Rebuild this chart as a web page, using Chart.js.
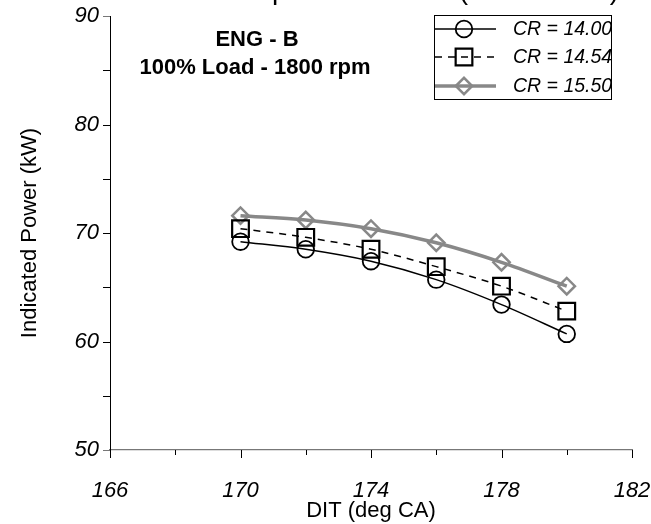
<!DOCTYPE html>
<html><head><meta charset="utf-8">
<script src="https://cdn.jsdelivr.net/npm/chart.js@4/dist/chart.umd.min.js"></script>
<style>html,body{margin:0;padding:0;background:#fff;}canvas{display:block;}</style>
</head><body>
<canvas id="c" width="651" height="524"></canvas>
<script>
// ---- data ----
const dit = [170, 172, 174, 176, 178, 180];
const cr1400 = [69.2, 68.5, 67.4, 65.7, 63.4, 60.7];
const cr1454 = [70.4, 69.6, 68.5, 66.9, 65.1, 62.8];
const cr1550 = [71.6, 71.2, 70.4, 69.1, 67.3, 65.1];
const seriesNames = ['CR = 14.00', 'CR = 14.54', 'CR = 15.50'];
const xTickValues = [166, 170, 174, 178, 182];
const yTickValues = [50, 60, 70, 80, 90];
const xAxisTitle = 'DIT (deg CA)';
const yAxisTitle = 'Indicated Power (kW)';
const noteLines = ['ENG - B', '100% Load - 1800 rpm'];
const titleText = 'Effect of Compression Ratio (100% Load)';

const FONT = '"Liberation Sans", Arial, sans-serif';
const toXY = arr => dit.map((x, i) => ({x: x, y: arr[i]}));

const datasets = [
  {label: seriesNames[0], data: toXY(cr1400), borderColor: '#000', borderWidth: 1.5,
   pointStyle: 'circle', pointRadius: 8.3, pointBorderWidth: 1.8, pointBorderColor: '#000',
   pointBackgroundColor: 'rgba(0,0,0,0)', borderDash: []},
  {label: seriesNames[1], data: toXY(cr1454), borderColor: '#000', borderWidth: 1.5,
   pointStyle: 'rect', pointRadius: 11.8, pointBorderWidth: 2.2, pointBorderColor: '#000',
   pointBackgroundColor: 'rgba(0,0,0,0)', borderDash: [7, 6]},
  {label: seriesNames[2], data: toXY(cr1550), borderColor: '#888', borderWidth: 3.5,
   pointStyle: 'rectRot', pointRadius: 8.2, pointBorderWidth: 2.5, pointBorderColor: '#888',
   pointBackgroundColor: 'rgba(0,0,0,0)', borderDash: []}
];

const decor = {
  id: 'decor',
  afterDraw(chart) {
    const ctx = chart.ctx;
    const xs = chart.scales.x, ys = chart.scales.y;
    const ca = chart.chartArea;
    ctx.save();
    ctx.lineWidth = 1;
    ctx.strokeStyle = '#000';
    for (let v = 166; v <= 182; v += 2) {
      const px = Math.round(xs.getPixelForValue(v)) + 0.5;
      const len = xTickValues.includes(v) ? 8 : 5;
      ctx.beginPath(); ctx.moveTo(px, ca.bottom); ctx.lineTo(px, ca.bottom + len); ctx.stroke();
    }
    for (let v = 50; v <= 90; v += 5) {
      const py = Math.round(ys.getPixelForValue(v)) + 0.5;
      ctx.strokeStyle = (v === 50 || v === 90) ? '#777' : '#000';
      ctx.beginPath(); ctx.moveTo(ca.left - 7, py); ctx.lineTo(ca.left, py); ctx.stroke();
    }
    ctx.fillStyle = '#000';
    ctx.font = 'bold 22px ' + FONT;
    ctx.textAlign = 'center';
    ctx.textBaseline = 'middle';
    ctx.fillText(noteLines[0], 257, 40);
    ctx.fillText(noteLines[1], 255, 68);
    ctx.font = '28px ' + FONT;
    ctx.textAlign = 'left';
    ctx.textBaseline = 'alphabetic';
    const pre = ctx.measureText('Effect of Com').width;
    ctx.fillText(titleText, 272 - pre, -1);
    const L = {x0: 434, x1: 611, y0: 15.5, y1: 99.5};
    ctx.strokeStyle = '#000';
    ctx.lineWidth = 1;
    ctx.fillStyle = '#fff';
    ctx.fillRect(L.x0, L.y0, L.x1 - L.x0, L.y1 - L.y0);
    ctx.strokeRect(L.x0 + 0.5, L.y0, L.x1 - L.x0, L.y1 - L.y0);
    const rows = [29, 57, 86];
    chart.data.datasets.forEach((ds, i) => {
      const y = rows[i];
      ctx.save();
      ctx.strokeStyle = ds.borderColor;
      ctx.lineWidth = ds.borderWidth;
      ctx.setLineDash(ds.borderDash || []);
      ctx.beginPath(); ctx.moveTo(L.x0 + 1, y); ctx.lineTo(496, y); ctx.stroke();
      ctx.restore();
      ctx.save();
      ctx.strokeStyle = ds.pointBorderColor;
      ctx.fillStyle = 'rgba(0,0,0,0)';
      ctx.lineWidth = ds.pointBorderWidth;
      Chart.helpers.drawPoint(ctx, {pointStyle: ds.pointStyle, radius: ds.pointRadius, rotation: 0, borderWidth: ds.pointBorderWidth}, 464, y);
      ctx.restore();
      ctx.fillStyle = '#000';
      ctx.font = 'italic 19.5px ' + FONT;
      ctx.textAlign = 'left';
      ctx.textBaseline = 'middle';
      ctx.fillText(ds.label, 513, y + 1);
    });
    ctx.restore();
  }
};

new Chart(document.getElementById('c'), {
  type: 'line',
  data: {datasets: datasets},
  options: {
    responsive: false,
    animation: false,
    devicePixelRatio: 1,
    layout: {padding: {left: 0, right: 19, top: 16, bottom: 0}},
    elements: {line: {tension: 0.4, cubicInterpolationMode: 'monotone', fill: false}},
    plugins: {legend: {display: false}, tooltip: {enabled: false}, title: {display: false}},
    scales: {
      x: {
        type: 'linear', min: 166, max: 182,
        afterBuildTicks: s => { s.ticks = xTickValues.map(v => ({value: v})); },
        afterFit: s => { s.height = 74; s.paddingLeft = 0; s.paddingRight = 0; },
        grid: {display: false},
        border: {display: true, color: '#777', width: 1.2},
        ticks: {color: '#000', font: {family: FONT, size: 22, style: 'italic'}, padding: 20, maxRotation: 0},
        title: {display: true, text: xAxisTitle, color: '#000', font: {family: FONT, size: 22}, padding: {top: 0, bottom: 0}}
      },
      y: {
        type: 'linear', min: 50, max: 90,
        afterBuildTicks: s => { s.ticks = yTickValues.map(v => ({value: v})); },
        afterFit: s => { s.width = 110; s.paddingTop = 0; s.paddingBottom = 0; },
        grid: {display: false},
        border: {display: true, color: '#000', width: 1},
        ticks: {color: '#000', font: {family: FONT, size: 22, style: 'italic'}, padding: 3},
        title: {display: true, text: yAxisTitle, color: '#000', font: {family: FONT, size: 22}, padding: {top: 17, bottom: 0}}
      }
    }
  },
  plugins: [decor]
});
</script>
</body></html>
